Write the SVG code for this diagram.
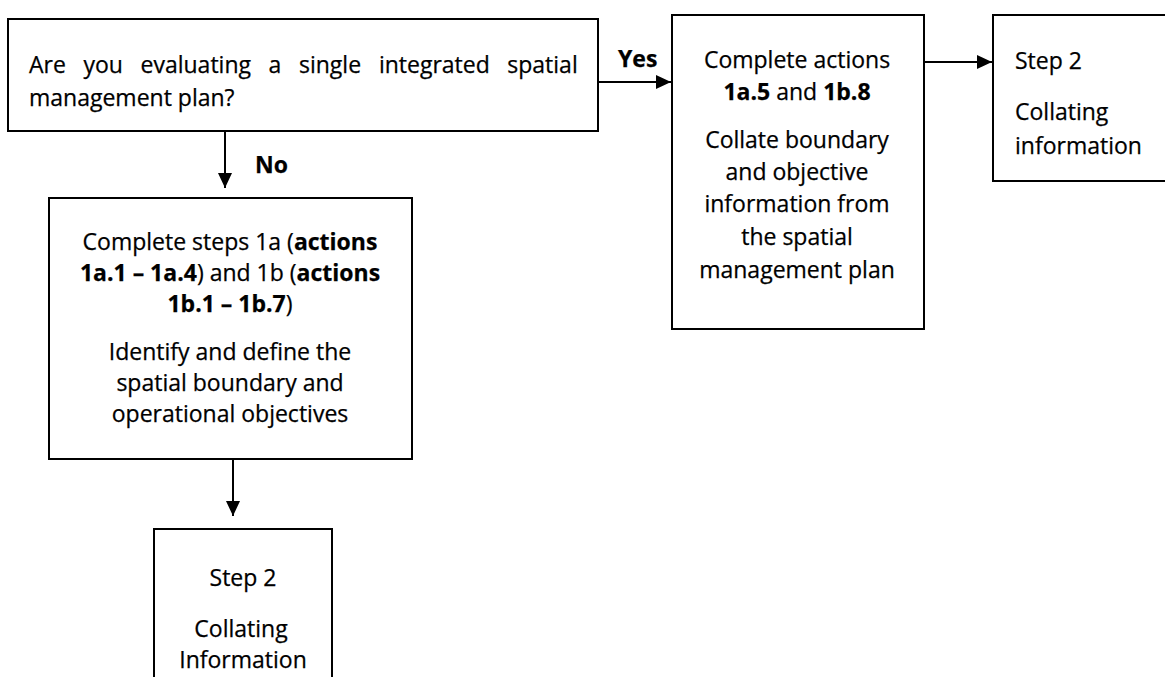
<svg xmlns="http://www.w3.org/2000/svg" width="1165" height="677" viewBox="0 0 1165 677">
<style>
.box{fill:#fff;stroke:#000;stroke-width:2}
.t{font-family:"Open Sans","Liberation Sans",sans-serif;font-size:23px;fill:#000;stroke:#000;stroke-width:0.25}
.c{text-anchor:middle}
.b{font-weight:bold}
.conn line{stroke:#000;stroke-width:2}
</style>
<defs>
<marker id="ah" viewBox="0 0 15 14" markerWidth="15" markerHeight="14" refX="15" refY="7" markerUnits="userSpaceOnUse" orient="auto">
<path d="M0,0 L15,7 L0,14 z" fill="#000"/>
</marker>
</defs>
<rect width="1165" height="677" fill="#fff"/>
<g id="connectors" class="conn">
<line x1="598" y1="82" x2="671" y2="82" marker-end="url(#ah)"/>
<line x1="225" y1="131" x2="225" y2="188" marker-end="url(#ah)"/>
<line x1="924" y1="62" x2="992" y2="62" marker-end="url(#ah)"/>
<line x1="233" y1="459" x2="233" y2="516" marker-end="url(#ah)"/>
<text class="t b" x="618" y="67">Yes</text>
<text class="t b" x="255" y="173">No</text>
</g>
<g id="question">
<rect class="box" x="8" y="19" width="590" height="112"/>
<text class="t" y="73"><tspan x="29">Are</tspan><tspan x="83.5">you</tspan><tspan x="140.5">evaluating</tspan><tspan x="268.6">a</tspan><tspan x="299">single</tspan><tspan x="378.9">integrated</tspan><tspan x="507.3">spatial</tspan></text>
<text class="t" x="29" y="106">management plan?</text>
</g>
<g id="yes-actions">
<rect class="box" x="672" y="15" width="252" height="314"/>
<text class="t c" x="797" y="68">Complete actions</text>
<text class="t c" x="797" y="100"><tspan class="b">1a.5</tspan> and <tspan class="b">1b.8</tspan></text>
<text class="t c" x="797" y="148">Collate boundary</text>
<text class="t c" x="797" y="180">and objective</text>
<text class="t c" x="797" y="212">information from</text>
<text class="t c" x="797" y="245">the spatial</text>
<text class="t c" x="797" y="278">management plan</text>
</g>
<g id="step2-right">
<rect class="box" x="993" y="15" width="200" height="166"/>
<text class="t" x="1015" y="69">Step 2</text>
<text class="t" x="1015" y="120">Collating</text>
<text class="t" x="1015" y="154">information</text>
</g>
<g id="no-actions">
<rect class="box" x="49" y="198" width="363" height="261"/>
<text class="t c" x="230" y="250">Complete steps 1a (<tspan class="b">actions</tspan></text>
<text class="t c" x="230" y="281"><tspan class="b">1a.1 – 1a.4</tspan>) and 1b (<tspan class="b">actions</tspan></text>
<text class="t c" x="230" y="312"><tspan class="b">1b.1 – 1b.7</tspan>)</text>
<text class="t c" x="230" y="360">Identify and define the</text>
<text class="t c" x="230" y="391">spatial boundary and</text>
<text class="t c" x="230" y="422">operational objectives</text>
</g>
<g id="step2-bottom">
<rect class="box" x="154" y="529" width="178" height="170"/>
<text class="t c" x="243" y="586">Step 2</text>
<text class="t c" x="241" y="637">Collating</text>
<text class="t c" x="243" y="668">Information</text>
</g>
</svg>
